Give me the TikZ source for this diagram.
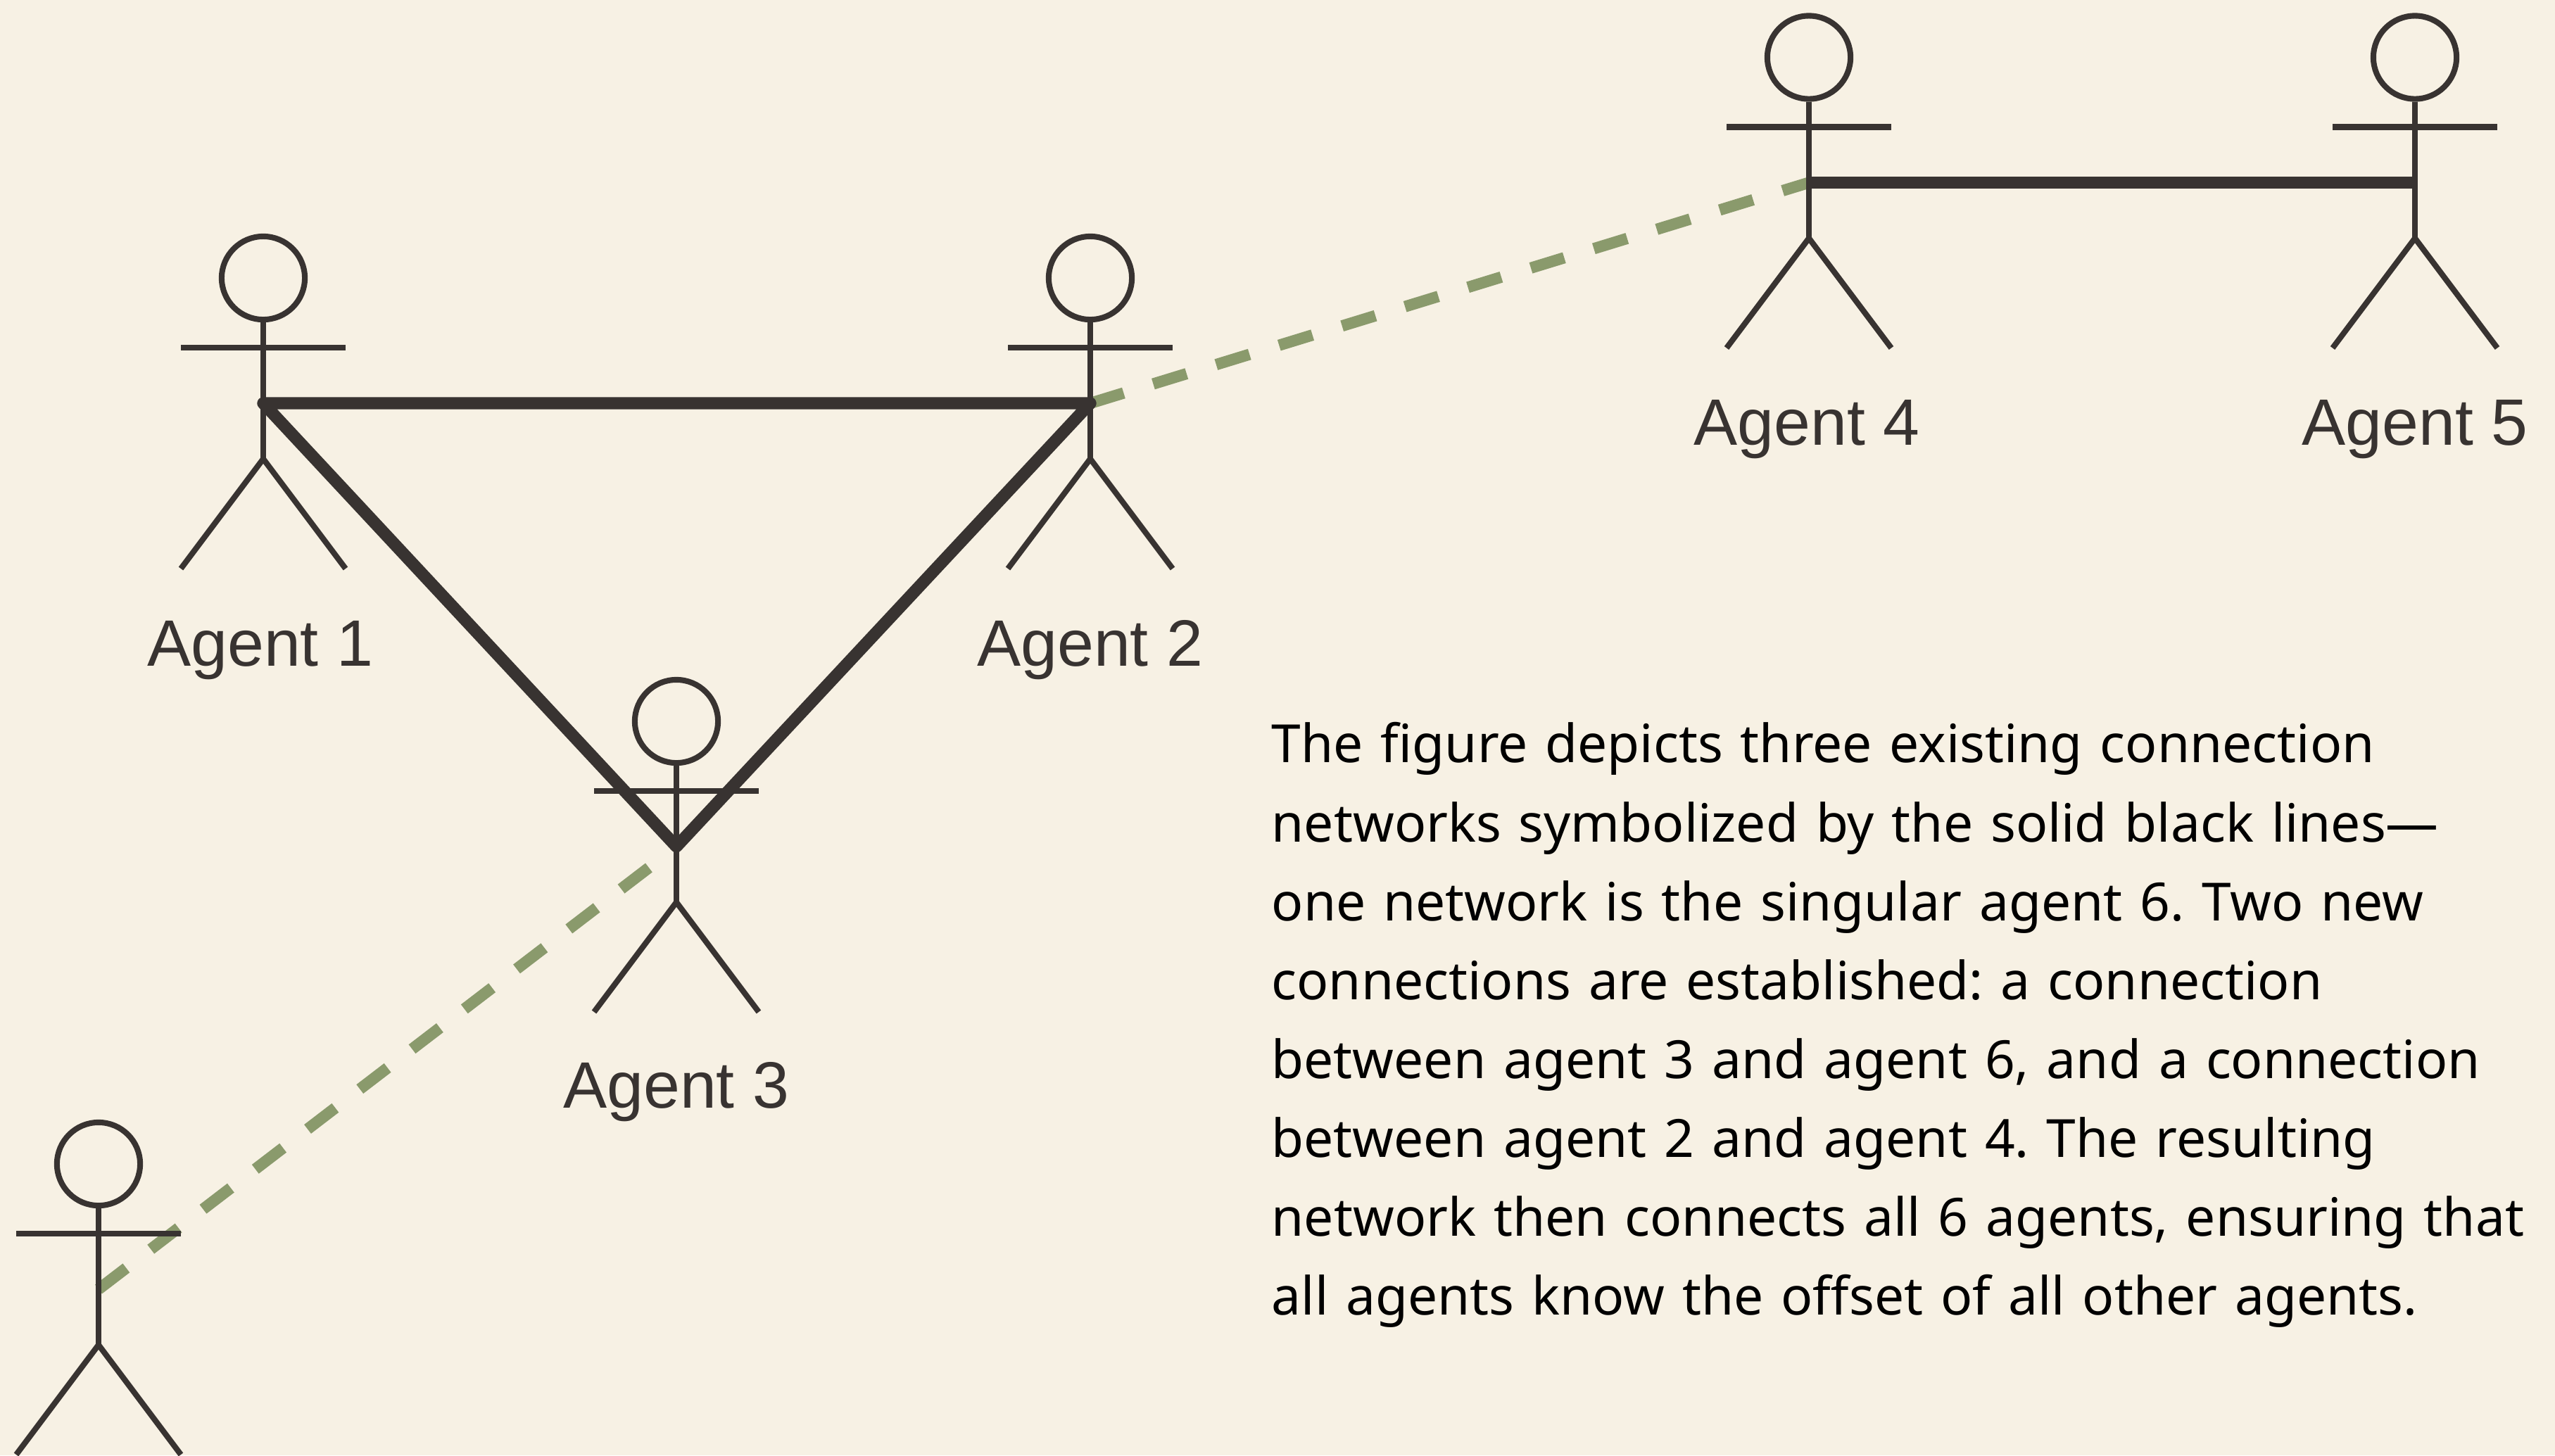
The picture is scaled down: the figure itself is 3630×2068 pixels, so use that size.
\documentclass[tikz,border=0pt]{standalone}
\usepackage{fontspec}
\setmainfont{Noto Sans}
\newfontfamily\labelfont{Liberation Sans}
\definecolor{paper}{HTML}{F7F1E4}
\definecolor{ink}{HTML}{383331}
\definecolor{moss}{HTML}{8A9A6C}
\tikzset{
  x=0.01cm,y=-0.01cm,
  limb/.style={draw=ink,line width=2.3pt},
  headshape/.style={circle,draw=ink,line width=2.3pt,minimum size=33.6pt,inner sep=0pt},
  solidlink/.style={draw=ink,line width=4.9pt,line join=round},
  newlink/.style={draw=moss,line width=4.6pt,dash pattern=on 14.1pt off 12.5pt},
  agentlabel/.style={font=\labelfont\fontsize{26.5}{30}\selectfont,text=ink,inner sep=0pt,anchor=base},
  bodytext/.style={font=\frenchspacing\fontsize{21.28}{31.86}\selectfont,text=black,inner sep=0pt,anchor=north west,align=left,text width=1000pt}
}
% joints of a figure: #1 name, #2 x, #3 y of the head centre
\newcommand{\agentjoints}[3]{%
  \node[headshape] (#1h) at (#2,#3) {};
  \coordinate (#1j) at (#2,#3+178);
  \coordinate (#1hip) at (#2,#3+257);
  \coordinate (#1al) at (#2-117,#3+99);
  \coordinate (#1ar) at (#2+117,#3+99);
  \coordinate (#1fl) at (#2-117,#3+413);
  \coordinate (#1fr) at (#2+117,#3+413);
}
\newcommand{\agentbody}[1]{%
  \draw[limb] (#1h.south) -- (#1hip);
  \draw[limb] (#1al) -- (#1ar);
  \draw[limb,line join=round] (#1fl) -- (#1hip) -- (#1fr);
}
\begin{document}
\begin{tikzpicture}
\useasboundingbox[fill=paper] (0,0) rectangle (3630,2068);
\agentjoints{a}{374}{395}
\agentjoints{b}{1549}{395}
\agentjoints{c}{961}{1025}
\agentjoints{d}{2570}{81.5}
\agentjoints{e}{3431}{81.5}
\agentjoints{f}{140}{1654}
\draw[newlink] (fj) -- (cj);
\draw[newlink] (bj) -- (dj);
\agentbody{a}\agentbody{b}\agentbody{c}\agentbody{d}\agentbody{e}\agentbody{f}
\draw[solidlink] (cj) -- (aj) -- (bj) -- cycle;
\draw[solidlink] (dj) -- (ej);
\node[agentlabel] (la) at (370,946) {Agent 1};
\node[agentlabel] (lb) at (1549,946) {Agent 2};
\node[agentlabel] (lc) at (961,1574) {Agent 3};
\node[agentlabel] (ld) at (2567,632) {Agent 4};
\node[agentlabel] (le) at (3431,632) {Agent 5};
\node[bodytext] (txt) at (1806,1026) {The figure depicts three existing connection\\
networks symbolized by the solid black lines—\\
one network is the singular agent 6. Two new\\
connections are established: a connection\\
between agent 3 and agent 6, and a connection\\
between agent 2 and agent 4. The resulting\\
network then connects all 6 agents, ensuring that\\
all agents know the offset of all other agents.};
\end{tikzpicture}
\end{document}
